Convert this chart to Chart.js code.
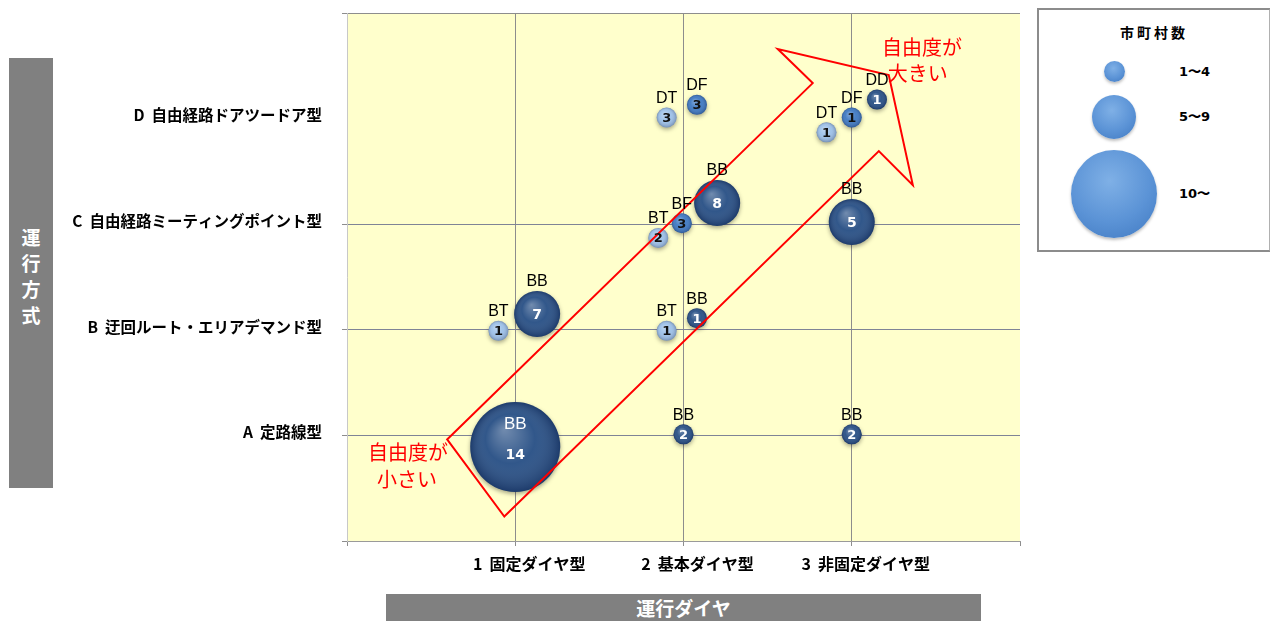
<!DOCTYPE html>
<html>
<head>
<meta charset="utf-8">
<script src="https://cdn.jsdelivr.net/npm/chart.js@4"></script>
<style>
  body { margin: 0; background: #fff; font-family: "Noto Sans CJK JP", sans-serif; overflow: hidden; }
  /* bubble charts reserve room for the biggest bubble (45px) on top/right, so the canvas is shifted to compensate */
  #wrap { position: absolute; left: 0; top: -32px; width: 1065px; height: 653px; }
  .axisbox { position: absolute; background: #808080; color: #fff; font-weight: bold; display: flex; align-items: center; justify-content: center; }
  #ytitle { left: 9px; top: 58px; width: 44px; height: 430px; font-size: 19px; writing-mode: vertical-rl; letter-spacing: 7px; padding-top: 14px; box-sizing: border-box; }
  #xtitle { left: 386px; top: 594px; width: 595px; height: 27px; font-size: 19px; }
  #legend { position: absolute; left: 1037px; top: 8px; width: 230px; height: 240px; border: 2px solid #8c8c8c; border-right-color: #b0b0b0; background: #fff; }
  #legend .t { position: absolute; left: 0; width: 230px; top: 12px; text-align: center; font-size: 14px; font-weight: bold; letter-spacing: 3px; }
  #legend .c { position: absolute; border-radius: 50%; background: radial-gradient(circle at 45% 35%, #7fb0e6 0%, #5b93d6 55%, #3f78c0 100%); box-shadow: 0 2px 3px rgba(0,0,0,0.25); }
  #legend .l { position: absolute; left: 140px; font-size: 13px; font-weight: bold; font-family: "DejaVu Sans", sans-serif; }
</style>
</head>
<body>
<div id="wrap"><canvas id="chart"></canvas></div>
<div id="ytitle" class="axisbox">運行方式</div>
<div id="xtitle" class="axisbox">運行ダイヤ</div>
<div id="legend">
  <div class="t">市町村数</div>
  <div class="c" style="left:65px;top:51px;width:21px;height:21px"></div><div class="l" style="top:53px">1〜4</div>
  <div class="c" style="left:53px;top:85px;width:44px;height:44px"></div><div class="l" style="top:98px">5〜9</div>
  <div class="c" style="left:32px;top:140px;width:86px;height:88px"></div><div class="l" style="top:175px">10〜</div>
</div>
<script>
// categories
const rowLabels = ["A  定路線型", "B  迂回ルート・エリアデマンド型", "C  自由経路ミーティングポイント型", "D  自由経路ドアツードア型"];
const colLabels = ["1  固定ダイヤ型", "2  基本ダイヤ型", "3  非固定ダイヤ型"];

// bubbles: type, position on the grid, number of municipalities
const pointTypes = ["BB", "BB", "BB", "BB", "BB", "BB", "BB", "BT", "BT", "BT", "BF", "DT", "DT", "DF", "DF", "DD"];
const pointX     = [1.0, 1.13, 2.0, 3.0, 2.08, 2.2, 3.0, 0.9, 1.9, 1.85, 1.99, 1.9, 2.85, 2.08, 3.0, 3.15];
const pointY     = [0.89, 2.15, 1.01, 1.01, 2.11, 3.2, 3.02, 1.99, 1.99, 2.87, 3.01, 4.01, 3.87, 4.13, 4.01, 4.18];
const pointCount = [14, 7, 2, 2, 1, 8, 5, 1, 1, 2, 3, 3, 1, 3, 1, 1];

// red arrow outline and notes (grid units)
const arrowX = [0.595, 2.768, 2.56, 3.22, 3.363, 3.161, 0.935];
const arrowY = [0.962, 4.336, 4.659, 4.412, 3.37, 3.692, 0.232];
const noteText = ["自由度が", "大きい", "自由度が", "小さい"];
const noteX = [3.417, 3.393, 0.363, 0.357];
const noteY = [4.678, 4.431, 0.839, 0.583];

const typeColor = { BB: "#264e84", DD: "#264e84", BT: "#9cc0e8", DT: "#9cc0e8", BF: "#3d78c2", DF: "#3d78c2" };
const dark = t => t === "BB" || t === "DD";
function radiusFor(n) { return n >= 10 ? 45 : n >= 5 ? 23 : 10; }

const typeOrder = ["BB", "BT", "BF", "DT", "DF", "DD"];
const datasets = typeOrder.map(t => {
  const pts = [];
  pointTypes.forEach((pt, i) => {
    if (pt === t) pts.push({ x: pointX[i], y: pointY[i], r: radiusFor(pointCount[i]), n: pointCount[i], t: pt });
  });
  return { label: t, data: pts, backgroundColor: typeColor[t], borderWidth: 0, hoverBorderWidth: 0 };
});

const plotBg = {
  id: "plotBg",
  beforeDraw(chart) {
    const a = chart.chartArea, c = chart.ctx;
    c.save();
    c.fillStyle = "#ffffcc";
    c.fillRect(a.left, a.top, a.right - a.left, a.bottom - a.top);
    c.restore();
  }
};

const bubbleDeco = {
  id: "bubbleDeco",
  beforeDatasetsDraw(chart) {
    const c = chart.ctx;
    c.save();
    c.shadowColor = "rgba(0,0,0,0.35)";
    c.shadowBlur = 4;
    c.shadowOffsetY = 2;
  },
  afterDatasetsDraw(chart) {
    const c = chart.ctx;
    c.restore();
    const xs = chart.scales.x, ys = chart.scales.y;

    // shading on the bubbles
    chart.data.datasets.forEach((ds, di) => {
      chart.getDatasetMeta(di).data.forEach(el => {
        const r = el.options.radius;
        const g = c.createRadialGradient(el.x - r * 0.25, el.y - r * 0.4, 0, el.x, el.y, r);
        g.addColorStop(0, "rgba(255,255,255,0.35)");
        g.addColorStop(0.55, "rgba(255,255,255,0.05)");
        g.addColorStop(1, "rgba(0,0,30,0.25)");
        c.beginPath();
        c.arc(el.x, el.y, r, 0, Math.PI * 2);
        c.fillStyle = g;
        c.fill();
      });
    });

    // red arrow
    c.save();
    c.beginPath();
    arrowX.forEach((v, i) => {
      const px = xs.getPixelForValue(v), py = ys.getPixelForValue(arrowY[i]);
      if (i === 0) c.moveTo(px, py); else c.lineTo(px, py);
    });
    c.closePath();
    c.strokeStyle = "#ff0000";
    c.lineWidth = 2;
    c.stroke();
    c.fillStyle = "#ff0000";
    c.font = "20px 'Noto Sans CJK JP'";
    c.textAlign = "center";
    c.textBaseline = "middle";
    noteText.forEach((s, i) => c.fillText(s, xs.getPixelForValue(noteX[i]), ys.getPixelForValue(noteY[i])));
    c.restore();

    // labels
    c.save();
    c.textAlign = "center";
    chart.data.datasets.forEach((ds, di) => {
      chart.getDatasetMeta(di).data.forEach((el, j) => {
        const d = ds.data[j];
        const r = el.options.radius;
        if (d.n >= 10) {
          c.fillStyle = "#fff";
          c.font = "17px 'Liberation Sans'";
          c.textBaseline = "middle";
          c.fillText(d.t, el.x, el.y - 23);
          c.font = "bold 14px 'DejaVu Sans'";
          c.fillText(String(d.n), el.x, el.y + 8);
          return;
        }
        c.fillStyle = "#000";
        c.font = "16px 'Liberation Sans'";
        c.textBaseline = "bottom";
        c.fillText(d.t, el.x, el.y - r - 1);
        c.fillStyle = dark(d.t) ? "#fff" : "#111";
        c.font = (r > 15 ? "bold 14px" : "bold 13px") + " 'DejaVu Sans'";
        c.textBaseline = "middle";
        c.fillText(String(d.n), el.x, el.y + 1);
      });
    });
    c.restore();
  }
};

new Chart(document.getElementById("chart"), {
  type: "bubble",
  data: { datasets: datasets },
  plugins: [plotBg, bubbleDeco],
  options: {
    responsive: true,
    maintainAspectRatio: false,
    animation: false,
    layout: { padding: 0 },
    plugins: {
      legend: { display: false },
      tooltip: { enabled: false },
    },
    scales: {
      x: {
        type: "linear",
        min: 0,
        max: 4,
        afterFit: s => { s.height = 80; },
        ticks: {
          stepSize: 1,
          padding: 8,
          labelOffset: 14,
          color: "#000",
          font: { size: 16, weight: "bold", family: "Noto Sans CJK JP" },
          callback: v => colLabels[v - 1] || "",
        },
        grid: {
          color: c => (c.tick && c.tick.value >= 1 && c.tick.value <= 3 ? "#8d8d8d" : "rgba(0,0,0,0)"),
          tickColor: "#8d8d8d",
          tickLength: 5,
        },
        border: { color: "#9a9a9a" },
      },
      y: {
        type: "linear",
        min: 0,
        max: 5,
        afterFit: s => { s.width = 347; },
        ticks: {
          stepSize: 1,
          padding: 20,
          labelOffset: -3,
          color: "#000",
          font: { size: 15.5, weight: "bold", family: "Noto Sans CJK JP" },
          callback: v => rowLabels[v - 1] || "",
        },
        grid: {
          color: c => (c.tick && (c.tick.value >= 1 && c.tick.value <= 3) ? "#7f8496" : c.tick && c.tick.value === 5 ? "#8d8d8d" : "rgba(0,0,0,0)"),
          tickColor: c => (c.tick && c.tick.value === 4 ? "rgba(0,0,0,0)" : "#8d8d8d"),
          tickLength: 5,
        },
        border: { color: "#c8c8c8" },
      },
    },
  },
});
</script>
</body>
</html>
